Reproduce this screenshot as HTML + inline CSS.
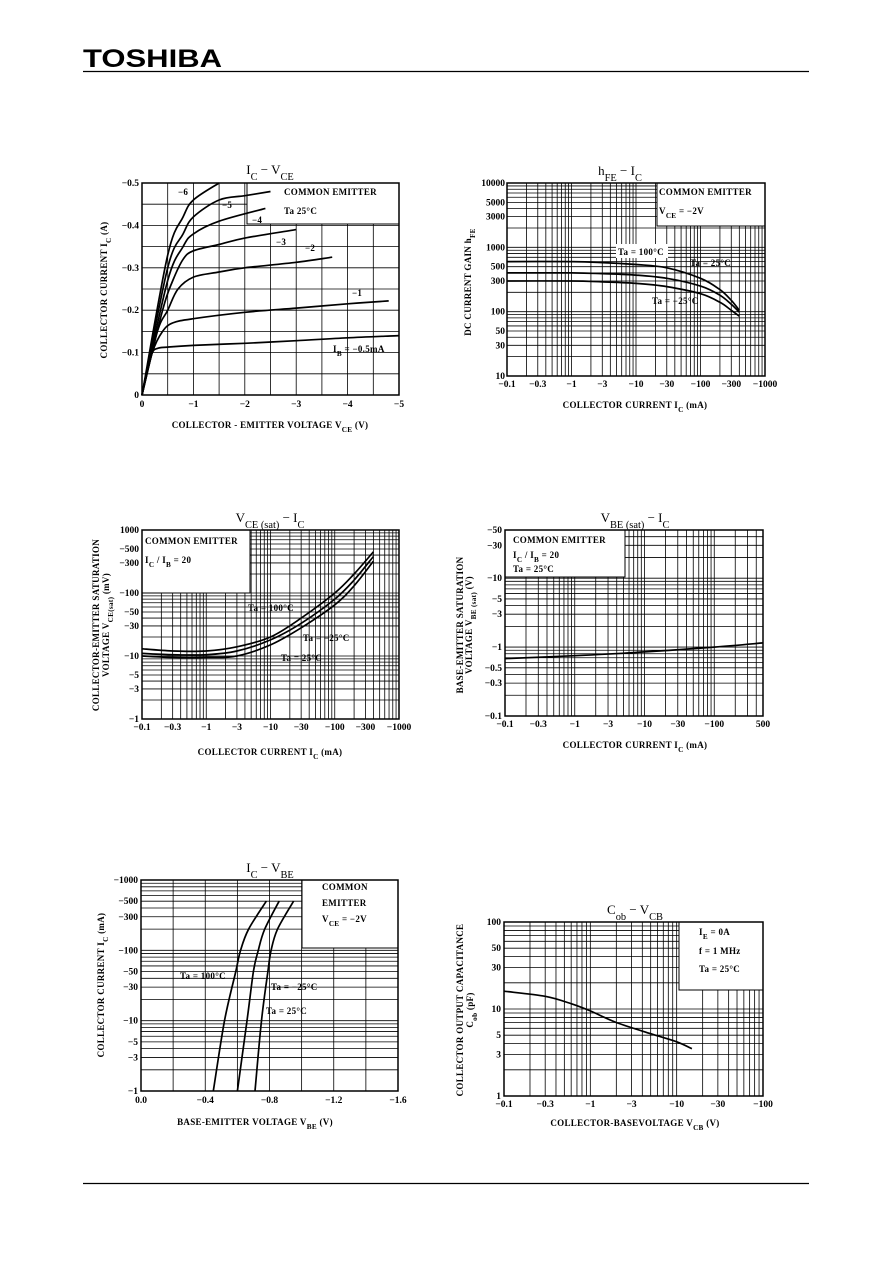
<!DOCTYPE html>
<html><head><meta charset="utf-8"><style>
html,body{margin:0;padding:0;background:#fff;}
svg{display:block;font-family:"Liberation Serif",serif;}
.tk{font-size:9.5px;font-weight:bold;}
.lb{font-size:9px;font-weight:bold;letter-spacing:0.3px;}
.tt{font-size:13px;}
</style></head><body>
<svg id="page" width="892" height="1263" viewBox="0 0 892 1263" xmlns="http://www.w3.org/2000/svg">
<rect width="892" height="1263" fill="#fff"/>
<text x="83" y="67" font-family="Liberation Sans, sans-serif" font-weight="bold" font-size="25" textLength="139" lengthAdjust="spacingAndGlyphs">TOSHIBA</text>
<line x1="83" y1="71.5" x2="809" y2="71.5" stroke="#000" stroke-width="1.2"/>
<line x1="83" y1="1183.5" x2="809" y2="1183.5" stroke="#000" stroke-width="1.2"/>
<g id="charts"></g>
</svg>
<script>
// ---- Chart 1: IC - VCE ----
const c1Labels = ["-0.5mA","-1","-2","-3","-4","-5","-6"];
const c1V_m05 = [0,0.1,0.2,0.3,0.5,1,2,3,4,5];
const c1I_m05 = [0,0.06,0.1,0.11,0.113,0.117,0.122,0.128,0.135,0.14];
const c1V_m1 = [0,0.2,0.4,0.6,1,2,3,4,4.8];
const c1I_m1 = [0,0.1,0.15,0.17,0.18,0.195,0.205,0.215,0.222];
const c1V_m2 = [0,0.3,0.5,0.7,1,1.5,2,3,3.7];
const c1I_m2 = [0,0.15,0.2,0.25,0.278,0.29,0.3,0.313,0.325];
const c1V_m3 = [0,0.4,0.6,0.8,1,1.5,2,3];
const c1I_m3 = [0,0.2,0.27,0.32,0.34,0.355,0.37,0.39];
const c1V_m4 = [0,0.5,0.8,1,1.5,2.4];
const c1I_m4 = [0,0.27,0.35,0.38,0.41,0.44];
const c1V_m5 = [0,0.5,0.8,1,1.5,2,2.5];
const c1I_m5 = [0,0.3,0.38,0.42,0.46,0.47,0.48];
const c1V_m6 = [0,0.5,0.8,1,1.5];
const c1I_m6 = [0,0.33,0.42,0.46,0.5];
const c1XTicks = [0,1,2,3,4,5];
const c1YTicks = [0,0.1,0.2,0.3,0.4,0.5];
// ---- Chart 2: hFE - IC ----
const c2IC = [0.1,1,3,10,30,100,200,300,400];
const c2H100 = [600,600,580,540,480,330,220,150,105];
const c2H25 = [400,400,390,370,330,250,180,130,98];
const c2Hm25 = [300,300,290,275,245,190,140,105,85];
const c2XTicks = [0.1,0.3,1,3,10,30,100,300,1000];
const c2YTicks = [10,30,50,100,300,500,1000,3000,5000,10000];
// ---- Chart 3: VCE(sat) - IC ----
const c3IC = [0.1,0.3,1,3,10,30,100,200,400];
const c3V100 = [13,12,12,14,20,40,100,200,450];
const c3V25 = [11,10.5,10.5,12,18,33,80,160,380];
const c3Vm25 = [10,9.5,9.5,10,15,28,65,130,320];
const c3XTicks = [0.1,0.3,1,3,10,30,100,300,1000];
const c3YTicks = [1,3,5,10,30,50,100,300,500,1000];
// ---- Chart 4: VBE(sat) - IC ----
const c4IC = [0.1,1,10,100,500];
const c4V = [0.68,0.75,0.85,1.0,1.15];
const c4XTicks = [0.1,0.3,1,3,10,30,100,500];
const c4YTicks = [0.1,0.3,0.5,1,3,5,10,30,50];
// ---- Chart 5: IC - VBE ----
const c5IC = [1,10,50,100,200,500];
const c5V100 = [0.45,0.52,0.59,0.62,0.67,0.78];
const c5V25 = [0.6,0.66,0.7,0.73,0.77,0.86];
const c5Vm25 = [0.71,0.75,0.79,0.81,0.85,0.95];
const c5XTicks = [0,0.4,0.8,1.2,1.6];
const c5YTicks = [1,3,5,10,30,50,100,300,500,1000];
// ---- Chart 6: Cob - VCB ----
const c6V = [0.1,0.3,0.6,1,2,5,10,15];
const c6C = [16,14,11.5,9.5,7,5.2,4.2,3.5];
const c6XTicks = [0.1,0.3,1,3,10,30,100];
const c6YTicks = [1,3,5,10,30,50,100];

const NS="http://www.w3.org/2000/svg";
const root=document.getElementById('charts');
function mk(tag,attrs,parent){const e=document.createElementNS(NS,tag);for(const k in attrs)e.setAttribute(k,attrs[k]);(parent||root).appendChild(e);return e;}
function fmt(v,neg){if(v===0)return "0";return (neg?"\u2212":"")+v;}
function linS(d0,d1,p0,p1){return v=>p0+(v-d0)/(d1-d0)*(p1-p0);}
function logS(d0,d1,p0,p1){return v=>p0+(Math.log10(v)-Math.log10(d0))/(Math.log10(d1)-Math.log10(d0))*(p1-p0);}
function logGridVals(a,b){const r=[];for(let e=Math.floor(Math.log10(a));e<=Math.ceil(Math.log10(b));e++){for(let m=1;m<10;m++){const v=m*Math.pow(10,e);if(v>=a*0.999&&v<=b*1.001)r.push(v);}}return r;}
function path(xs,ys,sx,sy,g,name){const P=xs.map((x,i)=>[sx(x),sy(ys[i])]);let d="M"+P[0][0].toFixed(1)+","+P[0][1].toFixed(1);
for(let i=0;i<P.length-1;i++){const p0=P[Math.max(0,i-1)],p1=P[i],p2=P[i+1],p3=P[Math.min(P.length-1,i+2)];
const c1=[p1[0]+(p2[0]-p0[0])/6,p1[1]+(p2[1]-p0[1])/6],c2=[p2[0]-(p3[0]-p1[0])/6,p2[1]-(p3[1]-p1[1])/6];
d+="C"+c1[0].toFixed(1)+","+c1[1].toFixed(1)+" "+c2[0].toFixed(1)+","+c2[1].toFixed(1)+" "+p2[0].toFixed(1)+","+p2[1].toFixed(1);}
const p=mk('path',{d:d,fill:"none",stroke:"#000","stroke-width":"1.7"},g);


return p;}
function txt(x,y,s,cls,g,anchor,name){const t=mk('text',{x:x,y:y,class:cls,"text-anchor":anchor||"start"},g);t.textContent=s;


return t;}
function richTxt(x,y,parts,cls,g,anchor,name,rot){const t=mk('text',{x:x,y:y,class:cls,"text-anchor":anchor||"start"},g);if(rot)t.setAttribute('transform','rotate(-90 '+x+' '+y+')');


parts.forEach(p=>{const s=mk('tspan',{},t);if(p.sub){s.setAttribute('baseline-shift','sub');s.setAttribute('font-size','0.8em');}s.textContent=p.t;});return t;}
function frame(name,L,T,R,B,xg,yg,sx,sy,legend){const g=mk('g',{});


const gg=mk('g',{stroke:"#000","stroke-width":"0.8"},g);
xg.forEach(v=>{const x=sx(v);if(legend&&x>legend[0]&&x<legend[2])mk('line',{x1:x,y1:legend[3],x2:x,y2:B},gg);else mk('line',{x1:x,y1:T,x2:x,y2:B},gg);});
yg.forEach(v=>{const y=sy(v);if(legend&&y>legend[1]&&y<legend[3])mk('line',{x1:(legend[0]<=L+1?legend[2]:L),y1:y,x2:(legend[0]<=L+1?R:legend[0]),y2:y},gg);else mk('line',{x1:L,y1:y,x2:R,y2:y},gg);});
if(legend){const lb=mk('rect',{x:legend[0],y:legend[1],width:legend[2]-legend[0],height:legend[3]-legend[1],fill:"#fff",stroke:"#000","stroke-width":"1"},g);

}
const fr=mk('rect',{x:L,y:T,width:R-L,height:B-T,fill:"none",stroke:"#000","stroke-width":"1.5"},g);


return g;}

// Chart 1
(function(){const L=142,T=183,R=399,B=395;const sx=linS(0,5,L,R),sy=linS(0,0.5,B,T);
const xg=[];for(let v=0;v<=5.001;v+=0.5)xg.push(v);const yg=[];for(let v=0;v<=0.5001;v+=0.05)yg.push(v);
const g=frame('chart-ic-vce',L,T,R,B,xg,yg,sx,sy,[247,T,R,224]);
richTxt(270,174,[{t:"I"},{t:"C",sub:1},{t:"  \u2212  V"},{t:"CE",sub:1}],'tt',g,'middle','chart-title');
c1XTicks.forEach(v=>txt(sx(v),B+12,fmt(v,1),'tk',g,'middle','x-tick-label'));
c1YTicks.forEach(v=>txt(L-3,sy(v)+3,fmt(v,1),'tk',g,'end','y-tick-label'));
const sets=[[c1V_m05,c1I_m05],[c1V_m1,c1I_m1],[c1V_m2,c1I_m2],[c1V_m3,c1I_m3],[c1V_m4,c1I_m4],[c1V_m5,c1I_m5],[c1V_m6,c1I_m6]];
sets.forEach((s,i)=>path(s[0],s[1],sx,sy,g,'curve-ib-'+i));
const lp=[[333,352],[352,296],[305,251],[276,245],[252,223],[222,208],[178,195]];
c1Labels.forEach((l,i)=>{if(i===0)richTxt(lp[i][0],lp[i][1],[{t:"I"},{t:"B",sub:1},{t:" = \u22120.5mA"}],'lb',g,'start','curve-label');else txt(lp[i][0],lp[i][1],"\u2212"+l.slice(1),'lb',g,'start','curve-label');});
txt(284,195,"COMMON EMITTER",'lb',g,'start','legend-text');txt(284,214,"Ta   25\u00B0C",'lb',g,'start','legend-text');
richTxt(107,290,[{t:"COLLECTOR CURRENT   I"},{t:"C",sub:1},{t:"   (A)"}],'lb',g,'middle','y-axis-title',1);
richTxt(270,428,[{t:"COLLECTOR - EMITTER VOLTAGE    V"},{t:"CE",sub:1},{t:"    (V)"}],'lb',g,'middle','x-axis-title');})();

// Chart 2
(function(){const L=507,T=183,R=765,B=376;const sx=logS(0.1,1000,L,R),sy=logS(10,10000,B,T);
const g=frame('chart-hfe-ic',L,T,R,B,logGridVals(0.1,1000),logGridVals(10,10000),sx,sy,[657,T,R,226]);
richTxt(620,175,[{t:"h"},{t:"FE",sub:1},{t:"  \u2212  I"},{t:"C",sub:1}],'tt',g,'middle','chart-title');
c2XTicks.forEach(v=>txt(sx(v),B+11,fmt(v,1),'tk',g,'middle','x-tick-label'));
c2YTicks.forEach(v=>txt(L-2,sy(v)+3,String(v),'tk',g,'end','y-tick-label'));
path(c2IC,c2H100,sx,sy,g,'curve-ta-100');path(c2IC,c2H25,sx,sy,g,'curve-ta-25');path(c2IC,c2Hm25,sx,sy,g,'curve-ta-m25');
const bx=mk('rect',{x:616,y:244,width:52,height:14,fill:"#fff"},g);
txt(618,255,"Ta = 100\u00B0C",'lb',g,'start','curve-label');txt(690,266,"Ta = 25\u00B0C",'lb',g,'start','curve-label');txt(652,304,"Ta = \u221225\u00B0C",'lb',g,'start','curve-label');
txt(659,195,"COMMON EMITTER",'lb',g,'start','legend-text');richTxt(659,214,[{t:"V"},{t:"CE",sub:1},{t:" = \u22122V"}],'lb',g,'start','legend-text');
richTxt(471,282,[{t:"DC CURRENT GAIN   h"},{t:"FE",sub:1}],'lb',g,'middle','y-axis-title',1);
richTxt(635,408,[{t:"COLLECTOR CURRENT   I"},{t:"C",sub:1},{t:"   (mA)"}],'lb',g,'middle','x-axis-title');})();

// Chart 3
(function(){const L=142,T=530,R=399,B=719;const sx=logS(0.1,1000,L,R),sy=logS(1,1000,B,T);
const g=frame('chart-vcesat-ic',L,T,R,B,logGridVals(0.1,1000),logGridVals(1,1000),sx,sy,[L,T,250,593]);
richTxt(270,522,[{t:"V"},{t:"CE (sat)",sub:1},{t:"  \u2212  I"},{t:"C",sub:1}],'tt',g,'middle','chart-title');
c3XTicks.forEach(v=>txt(sx(v),B+11,fmt(v,1),'tk',g,'middle','x-tick-label'));
c3YTicks.forEach(v=>txt(L-3,sy(v)+3,v===1000?"1000":fmt(v,1),'tk',g,'end','y-tick-label'));
path(c3IC,c3V100,sx,sy,g,'curve-ta-100');path(c3IC,c3V25,sx,sy,g,'curve-ta-25');path(c3IC,c3Vm25,sx,sy,g,'curve-ta-m25');
txt(248,611,"Ta = 100\u00B0C",'lb',g,'start','curve-label');txt(303,641,"Ta = \u221225\u00B0C",'lb',g,'start','curve-label');txt(281,661,"Ta = 25\u00B0C",'lb',g,'start','curve-label');
txt(145,544,"COMMON EMITTER",'lb',g,'start','legend-text');richTxt(145,563,[{t:"I"},{t:"C",sub:1},{t:" / I"},{t:"B",sub:1},{t:" = 20"}],'lb',g,'start','legend-text');
richTxt(99,625,[{t:"COLLECTOR-EMITTER SATURATION"}],'lb',g,'middle','y-axis-title',1);
richTxt(109,625,[{t:"VOLTAGE   V"},{t:"CE(sat)",sub:1},{t:"  (mV)"}],'lb',g,'middle','y-axis-title-2',1);
richTxt(270,755,[{t:"COLLECTOR CURRENT   I"},{t:"C",sub:1},{t:"   (mA)"}],'lb',g,'middle','x-axis-title');})();

// Chart 4
(function(){const L=505,T=530,R=763,B=716;const sx=logS(0.1,500,L,R),sy=logS(0.1,50,B,T);
const g=frame('chart-vbesat-ic',L,T,R,B,logGridVals(0.1,500),logGridVals(0.1,50),sx,sy,[L,T,625,577]);
richTxt(635,522,[{t:"V"},{t:"BE (sat)",sub:1},{t:"  \u2212  I"},{t:"C",sub:1}],'tt',g,'middle','chart-title');
c4XTicks.forEach(v=>txt(sx(v),B+11,v===500?"500":fmt(v,1),'tk',g,'middle','x-tick-label'));
c4YTicks.forEach(v=>txt(L-3,sy(v)+3,fmt(v,1),'tk',g,'end','y-tick-label'));
path(c4IC,c4V,sx,sy,g,'curve-vbesat');
txt(513,543,"COMMON EMITTER",'lb',g,'start','legend-text');richTxt(513,558,[{t:"I"},{t:"C",sub:1},{t:" / I"},{t:"B",sub:1},{t:" = 20"}],'lb',g,'start','legend-text');txt(513,572,"Ta = 25\u00B0C",'lb',g,'start','legend-text');
richTxt(463,625,[{t:"BASE-EMITTER SATURATION"}],'lb',g,'middle','y-axis-title',1);
richTxt(472,625,[{t:"VOLTAGE   V"},{t:"BE (sat)",sub:1},{t:"  (V)"}],'lb',g,'middle','y-axis-title-2',1);
richTxt(635,748,[{t:"COLLECTOR CURRENT   I"},{t:"C",sub:1},{t:"   (mA)"}],'lb',g,'middle','x-axis-title');})();

// Chart 5
(function(){const L=141,T=880,R=398,B=1091;const sx=linS(0,1.6,L,R),sy=logS(1,1000,B,T);
const xg=[];for(let v=0;v<=1.6001;v+=0.2)xg.push(v);
const g=frame('chart-ic-vbe',L,T,R,B,xg,logGridVals(1,1000),sx,sy,[302,T,R,948]);
richTxt(270,872,[{t:"I"},{t:"C",sub:1},{t:"  \u2212  V"},{t:"BE",sub:1}],'tt',g,'middle','chart-title');
c5XTicks.forEach(v=>txt(sx(v),B+12,v===0?"0.0":"\u2212"+v.toFixed(1),'tk',g,'middle','x-tick-label'));
c5YTicks.forEach(v=>txt(L-3,sy(v)+3,fmt(v,1),'tk',g,'end','y-tick-label'));
path(c5V100,c5IC,sx,sy,g,'curve-ta-100');path(c5V25,c5IC,sx,sy,g,'curve-ta-25');path(c5Vm25,c5IC,sx,sy,g,'curve-ta-m25');
txt(180,979,"Ta = 100\u00B0C",'lb',g,'start','curve-label');txt(271,990,"Ta = \u221225\u00B0C",'lb',g,'start','curve-label');txt(266,1014,"Ta = 25\u00B0C",'lb',g,'start','curve-label');
txt(322,890,"COMMON",'lb',g,'start','legend-text');txt(322,906,"EMITTER",'lb',g,'start','legend-text');richTxt(322,922,[{t:"V"},{t:"CE",sub:1},{t:" = \u22122V"}],'lb',g,'start','legend-text');
richTxt(104,985,[{t:"COLLECTOR CURRENT   I"},{t:"C",sub:1},{t:"   (mA)"}],'lb',g,'middle','y-axis-title',1);
richTxt(255,1125,[{t:"BASE-EMITTER VOLTAGE   V"},{t:"BE",sub:1},{t:"    (V)"}],'lb',g,'middle','x-axis-title');})();

// Chart 6
(function(){const L=504,T=922,R=763,B=1096;const sx=logS(0.1,100,L,R),sy=logS(1,100,B,T);
const g=frame('chart-cob-vcb',L,T,R,B,logGridVals(0.1,100),logGridVals(1,100),sx,sy,[679,T,R,990]);
richTxt(635,914,[{t:"C"},{t:"ob",sub:1},{t:"  \u2212  V"},{t:"CB",sub:1}],'tt',g,'middle','chart-title');
c6XTicks.forEach(v=>txt(sx(v),B+11,fmt(v,1),'tk',g,'middle','x-tick-label'));
c6YTicks.forEach(v=>txt(L-3,sy(v)+3,String(v),'tk',g,'end','y-tick-label'));
path(c6V,c6C,sx,sy,g,'curve-cob');
richTxt(699,935,[{t:"I"},{t:"E",sub:1},{t:" = 0A"}],'lb',g,'start','legend-text');txt(699,954,"f = 1 MHz",'lb',g,'start','legend-text');txt(699,972,"Ta = 25\u00B0C",'lb',g,'start','legend-text');
richTxt(463,1010,[{t:"COLLECTOR OUTPUT CAPACITANCE"}],'lb',g,'middle','y-axis-title',1);
richTxt(473,1010,[{t:"C"},{t:"ob",sub:1},{t:"   (pF)"}],'lb',g,'middle','y-axis-title-2',1);
richTxt(635,1126,[{t:"COLLECTOR-BASEVOLTAGE    V"},{t:"CB",sub:1},{t:"    (V)"}],'lb',g,'middle','x-axis-title');})();
</script>
</body></html>
